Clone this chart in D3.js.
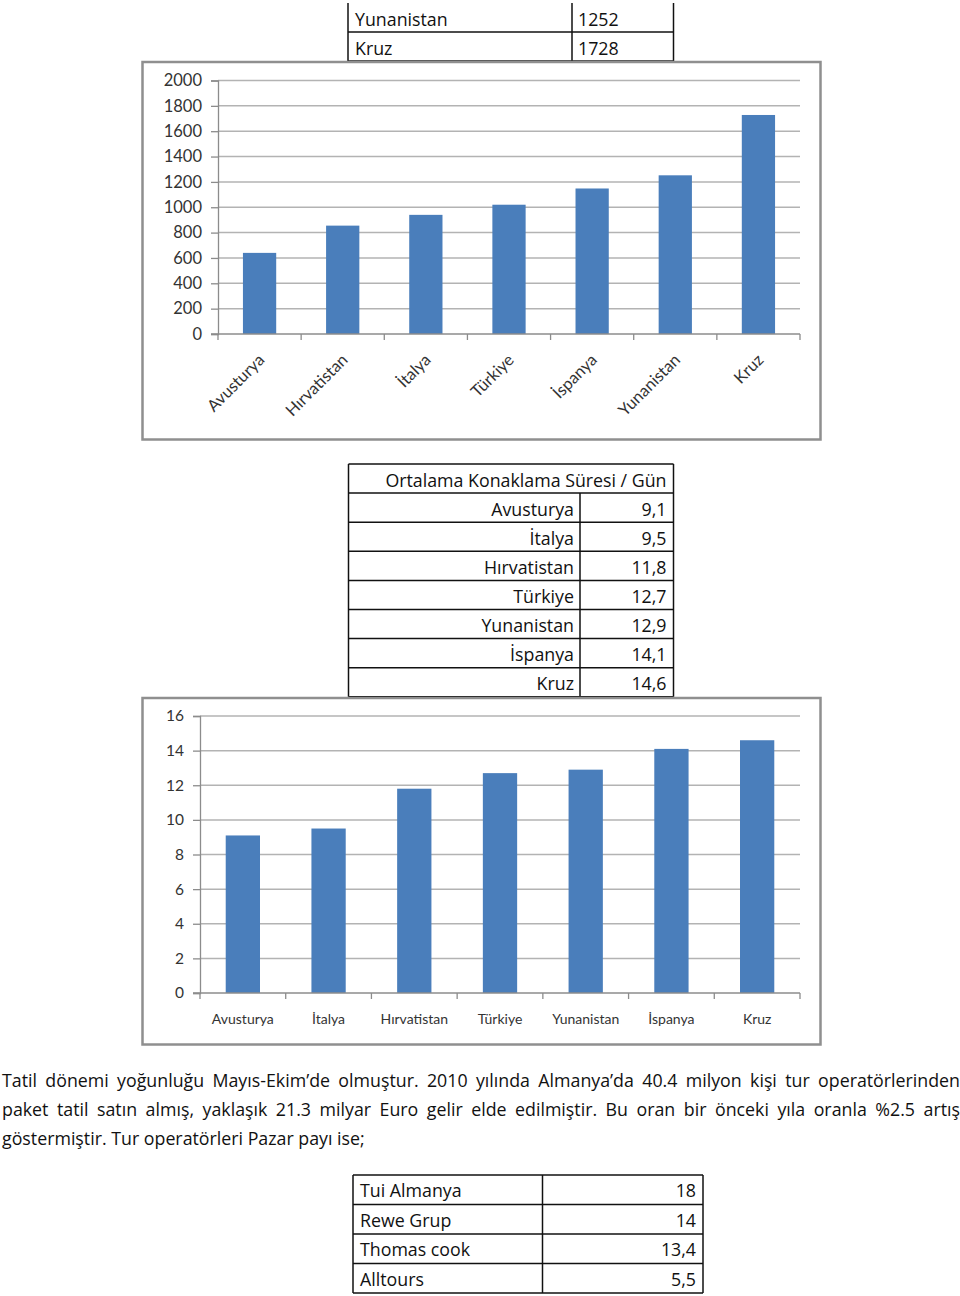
<!DOCTYPE html>
<html>
<head>
<meta charset="utf-8">
<script src="https://cdn.jsdelivr.net/npm/d3@7/dist/d3.min.js"></script>
<style>
  body { margin: 0; background: #fff; }
  svg { display: block; font-family: "Open Sans", Lato, sans-serif; }
</style>
</head>
<body>
<div id="page"></div>
<script>
// top table (cut off at the page top)
var topNames = ["Yunanistan", "Kruz"];
var topValues = ["1252", "1728"];

// chart 1: visitors per destination
var c1Categories = ["Avusturya", "Hırvatistan", "İtalya", "Türkiye", "İspanya", "Yunanistan", "Kruz"];
var c1Values = [640, 855, 940, 1020, 1148, 1252, 1728];
var c1Ticks = [0, 200, 400, 600, 800, 1000, 1200, 1400, 1600, 1800, 2000];

// table 2 + chart 2: average stay
var stayTitle = "Ortalama Konaklama Süresi / Gün";
var stayCategories = ["Avusturya", "İtalya", "Hırvatistan", "Türkiye", "Yunanistan", "İspanya", "Kruz"];
var stayValues = [9.1, 9.5, 11.8, 12.7, 12.9, 14.1, 14.6];
var c2Ticks = [0, 2, 4, 6, 8, 10, 12, 14, 16];

// paragraph
var paraLines = [
  "Tatil dönemi yoğunluğu Mayıs-Ekim’de olmuştur. 2010 yılında Almanya’da 40.4 milyon kişi tur operatörlerinden",
  "paket tatil satın almış, yaklaşık 21.3 milyar Euro gelir elde edilmiştir. Bu oran bir önceki yıla oranla %2.5 artış",
  "göstermiştir. Tur operatörleri Pazar payı ise;"
];

// table 3: tour operator market share
var operators = ["Tui Almanya", "Rewe Grup", "Thomas cook", "Alltours"];
var operatorShares = [18, 14, 13.4, 5.5];

var width = 960, height = 1296;
var barColor = "#4a7ebb";
var gridColor = "#b3b3b3";
var axisColor = "#8c8c8c";
var labelColor = "#333";
var docFont = "'Open Sans', Lato, sans-serif";
var chartFont = "Lato, 'Open Sans', sans-serif";
var docSize = 17.8;

function comma(v) {
  return String(v).replace(".", ",");
}

var svg = d3.select("#page").append("svg")
  .attr("width", width)
  .attr("height", height);

// ---------- tables ----------
function drawTable(g, x0, xMid, x1, top, rowH, rows, opts) {
  var n = rows.length;
  var line = function(xa, ya, xb, yb) {
    g.append("line").attr("x1", xa).attr("y1", ya).attr("x2", xb).attr("y2", yb)
      .attr("stroke", "#111").attr("stroke-width", 1.5);
  };
  g.attr("font-family", docFont);
  if (opts.topLine) line(x0, top, x1, top);
  line(x0, top, x0, top + n * rowH);
  line(x1, top, x1, top + n * rowH);
  rows.forEach(function(r, i) {
    var y = top + i * rowH;
    line(x0, y + rowH, x1, y + rowH);
    if (r.length === 1) {
      g.append("text").attr("x", x1 - 7).attr("y", y + opts.base)
        .attr("text-anchor", "end").attr("font-size", opts.size).attr("fill", "#111")
        .text(r[0]);
    } else {
      line(xMid, y, xMid, y + rowH);
      g.append("text")
        .attr("x", opts.leftAlign ? x0 + 7 : xMid - 6)
        .attr("y", y + opts.base)
        .attr("text-anchor", opts.leftAlign ? "start" : "end")
        .attr("font-size", opts.size).attr("fill", "#111")
        .text(r[0]);
      g.append("text")
        .attr("x", opts.valueLeft ? xMid + 6 : x1 - 7)
        .attr("y", y + opts.base)
        .attr("text-anchor", opts.valueLeft ? "start" : "end")
        .attr("font-size", opts.size).attr("fill", "#111")
        .text(r[1]);
    }
  });
}

drawTable(svg.append("g"), 348, 572, 673.5, 3, 29,
  topNames.map(function(d, i) { return [d, topValues[i]]; }),
  { topLine: false, leftAlign: true, valueLeft: true, base: 22.5, size: docSize });

drawTable(svg.append("g"), 348.5, 580, 673.5, 464, 29.1,
  [[stayTitle]].concat(stayCategories.map(function(d, i) { return [d, comma(stayValues[i])]; })),
  { topLine: true, leftAlign: false, valueLeft: false, base: 22.5, size: docSize });

drawTable(svg.append("g"), 353, 542.5, 703, 1175, 29.5,
  operators.map(function(d, i) { return [d, comma(operatorShares[i])]; }),
  { topLine: true, leftAlign: true, valueLeft: false, base: 22, size: docSize });

// ---------- charts ----------
function drawChart(cfg) {
  var g = svg.append("g").attr("font-family", chartFont);
  g.append("rect")
    .attr("x", cfg.frame[0]).attr("y", cfg.frame[1])
    .attr("width", cfg.frame[2]).attr("height", cfg.frame[3])
    .attr("fill", "#fff").attr("stroke", "#8f8f8f").attr("stroke-width", 2.5);

  var yScale = d3.scaleLinear().domain(cfg.yDomain).range([cfg.y0, cfg.y1]);
  var xScale = d3.scaleBand().domain(cfg.categories)
    .range([cfg.x0, cfg.x1]).paddingInner(0.6).paddingOuter(0.3);

  // gridlines
  g.selectAll(".grid").data(cfg.ticks.slice(1)).enter().append("line")
    .attr("x1", cfg.x0).attr("x2", cfg.x1)
    .attr("y1", function(d) { return yScale(d); })
    .attr("y2", function(d) { return yScale(d); })
    .attr("stroke", gridColor).attr("stroke-width", 1.5);

  // y axis
  var yAxis = g.append("g").attr("transform", "translate(" + cfg.x0 + ",0)")
    .call(d3.axisLeft(yScale).tickValues(cfg.ticks).tickSize(7).tickPadding(9).tickFormat(d3.format("d")));
  yAxis.select(".domain").attr("stroke", axisColor).attr("stroke-width", 1.3);
  yAxis.selectAll(".tick line").attr("stroke", axisColor).attr("stroke-width", 1.3);
  yAxis.selectAll(".tick text").attr("font-size", cfg.tickSize).attr("fill", labelColor)
    .attr("font-family", chartFont);

  // bars
  g.selectAll(".bar").data(cfg.values).enter().append("rect")
    .attr("class", "bar")
    .attr("x", function(d, i) { return xScale(cfg.categories[i]); })
    .attr("y", function(d) { return yScale(d); })
    .attr("width", xScale.bandwidth())
    .attr("height", function(d) { return yScale(0) - yScale(d); })
    .attr("fill", barColor);

  // x axis line + category boundary ticks
  var step = xScale.step();
  var bounds = cfg.categories.map(function(c) {
    return xScale(c) - (step - xScale.bandwidth()) / 2;
  });
  bounds.push(cfg.x1);
  g.append("line").attr("x1", cfg.x0 - 7).attr("x2", cfg.x1)
    .attr("y1", yScale(0)).attr("y2", yScale(0))
    .attr("stroke", axisColor).attr("stroke-width", 1.3);
  g.selectAll(".xtick").data(bounds).enter().append("line")
    .attr("x1", function(d) { return d; }).attr("x2", function(d) { return d; })
    .attr("y1", yScale(0)).attr("y2", yScale(0) + 6)
    .attr("stroke", axisColor).attr("stroke-width", 1.3);

  // category labels
  var lbl = g.selectAll(".xlabel").data(cfg.categories).enter().append("text")
    .attr("font-size", cfg.labelSize).attr("fill", labelColor)
    .text(function(d) { return d; });
  if (cfg.rotate) {
    lbl.attr("text-anchor", "end")
      .attr("transform", function(d) {
        var cx = xScale(d) + xScale.bandwidth() / 2;
        return "translate(" + (cx + 6) + "," + (yScale(0) + 27) + ") rotate(-45)";
      });
  } else {
    lbl.attr("text-anchor", "middle")
      .attr("x", function(d) { return xScale(d) + xScale.bandwidth() / 2; })
      .attr("y", yScale(0) + 31);
  }
}

drawChart({
  frame: [142.5, 62, 678, 377.5],
  categories: c1Categories, values: c1Values, ticks: c1Ticks,
  yDomain: [0, 2000], y0: 334, y1: 80.5, x0: 218, x1: 800,
  tickSize: 16.5, labelSize: 16.5, rotate: true
});

drawChart({
  frame: [142.5, 698, 678, 346.5],
  categories: stayCategories, values: stayValues, ticks: c2Ticks,
  yDomain: [0, 16], y0: 993, y1: 716, x0: 200, x1: 800,
  tickSize: 15.5, labelSize: 14, rotate: false
});

// ---------- justified paragraph ----------
var para = svg.append("g").attr("font-size", docSize).attr("fill", "#111")
  .attr("font-family", docFont);
var leftX = 2, rightX = 960;
var baselines = [1087, 1116, 1145];
paraLines.forEach(function(line, li) {
  var words = line.split(" ");
  var t = para.append("text").attr("y", baselines[li]);
  if (li === paraLines.length - 1) {
    t.attr("x", leftX).text(line);
    return;
  }
  var spans = words.map(function(w) { return t.append("tspan").text(w); });
  var widths = spans.map(function(s) { return s.node().getComputedTextLength(); });
  var gap = (rightX - leftX - d3.sum(widths)) / (words.length - 1);
  var x = leftX;
  spans.forEach(function(s, i) {
    s.attr("x", x);
    x += widths[i] + gap;
  });
});
</script>
</body>
</html>
